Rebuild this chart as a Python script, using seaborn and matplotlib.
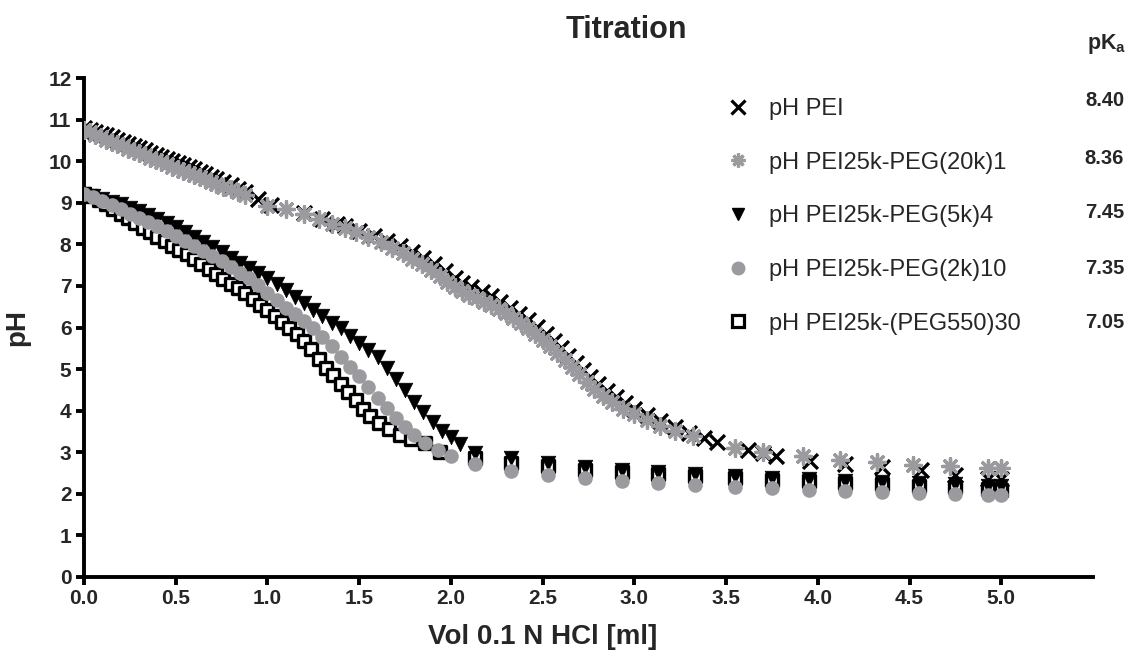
import matplotlib
matplotlib.use("Agg")
import matplotlib.pyplot as plt
from matplotlib.lines import Line2D
import seaborn as sns
import pandas as pd

# ---------------- data ----------------
pei_x = [0.00, 0.03, 0.06, 0.09, 0.12, 0.15, 0.18, 0.21, 0.24, 0.27, 0.30, 0.33, 0.36, 0.39, 0.42,
         0.45, 0.48, 0.51, 0.54, 0.57, 0.60, 0.63, 0.66, 0.69, 0.72, 0.76, 0.80, 0.84, 0.88, 0.95,
         1.02, 1.20, 1.30, 1.38, 1.42, 1.50, 1.58, 1.65, 1.72, 1.79, 1.85, 1.91, 1.97, 2.02, 2.06,
         2.11, 2.17, 2.22, 2.27, 2.32, 2.37, 2.42, 2.47, 2.52, 2.56, 2.60, 2.64, 2.68, 2.72, 2.76,
         2.80, 2.85, 2.90, 2.95, 3.00, 3.07, 3.14, 3.22, 3.30, 3.38, 3.45, 3.62, 3.70, 3.77, 3.96,
         4.15, 4.35, 4.56, 4.75, 4.93, 5.00]
pei_y = [10.80, 10.75, 10.70, 10.66, 10.62, 10.57, 10.52, 10.47, 10.42, 10.36, 10.31, 10.26, 10.20, 10.15, 10.10,
         10.05, 10.00, 9.95, 9.90, 9.85, 9.80, 9.74, 9.68, 9.62, 9.56, 9.50, 9.42, 9.33, 9.25, 9.10,
         8.95, 8.75, 8.60, 8.50, 8.45, 8.32, 8.20, 8.08, 7.95, 7.82, 7.68, 7.52, 7.35, 7.18, 7.08,
         6.98, 6.86, 6.75, 6.62, 6.48, 6.33, 6.18, 6.02, 5.85, 5.68, 5.50, 5.32, 5.14, 4.97, 4.80,
         4.63, 4.48, 4.32, 4.18, 4.05, 3.90, 3.76, 3.60, 3.46, 3.35, 3.25, 3.05, 2.98, 2.90, 2.80,
         2.72, 2.65, 2.58, 2.45, 2.35, 2.35]

peg20k_x = [0.00, 0.03, 0.06, 0.09, 0.12, 0.15, 0.18, 0.21, 0.24, 0.27, 0.30, 0.33, 0.36, 0.39, 0.42,
            0.45, 0.48, 0.51, 0.54, 0.57, 0.60, 0.63, 0.66, 0.69, 0.72, 0.76, 0.80, 0.84, 0.88, 1.00,
            1.10, 1.20, 1.28, 1.35, 1.42, 1.48, 1.55, 1.62, 1.68, 1.74, 1.79, 1.84, 1.89, 1.94, 1.98,
            2.02, 2.06, 2.10, 2.14, 2.18, 2.22, 2.26, 2.30, 2.34, 2.38, 2.42, 2.46, 2.50, 2.54, 2.58,
            2.62, 2.66, 2.70, 2.74, 2.78, 2.83, 2.88, 2.94, 3.00, 3.07, 3.14, 3.22, 3.32, 3.55, 3.70,
            3.92, 4.12, 4.32, 4.52, 4.72, 4.93, 5.00]
peg20k_y = [10.75, 10.70, 10.64, 10.58, 10.52, 10.47, 10.42, 10.36, 10.30, 10.25, 10.19, 10.14, 10.08, 10.03, 9.98,
            9.92, 9.87, 9.82, 9.77, 9.72, 9.67, 9.62, 9.56, 9.50, 9.44, 9.38, 9.32, 9.25, 9.18, 8.92,
            8.85, 8.72, 8.62, 8.50, 8.40, 8.30, 8.18, 8.05, 7.92, 7.78, 7.65, 7.52, 7.38, 7.24, 7.10,
            6.98, 6.88, 6.78, 6.70, 6.62, 6.53, 6.44, 6.34, 6.22, 6.10, 5.98, 5.85, 5.70, 5.55, 5.38,
            5.22, 5.05, 4.88, 4.70, 4.52, 4.36, 4.20, 4.05, 3.92, 3.78, 3.64, 3.52, 3.40, 3.10, 3.00,
            2.90, 2.82, 2.76, 2.70, 2.66, 2.62, 2.62]

peg5k_x = [0.00, 0.05, 0.10, 0.15, 0.20, 0.25, 0.30, 0.35, 0.40, 0.45, 0.50, 0.55, 0.60, 0.65, 0.70,
           0.75, 0.80, 0.85, 0.90, 0.95, 1.00, 1.05, 1.10, 1.15, 1.20, 1.25, 1.30, 1.35, 1.40, 1.45,
           1.50, 1.55, 1.60, 1.65, 1.70, 1.75, 1.80, 1.85, 1.90, 1.95, 2.00, 2.05, 2.13, 2.33, 2.53,
           2.73, 2.93, 3.13, 3.33, 3.55, 3.75, 3.95, 4.15, 4.35, 4.55, 4.75, 4.93, 5.00]
peg5k_y = [9.20, 9.16, 9.10, 9.03, 8.96, 8.88, 8.80, 8.70, 8.60, 8.51, 8.41, 8.30, 8.18, 8.06, 7.94,
           7.81, 7.68, 7.56, 7.44, 7.31, 7.18, 7.05, 6.90, 6.74, 6.58, 6.42, 6.27, 6.12, 5.98, 5.80,
           5.62, 5.45, 5.28, 5.02, 4.76, 4.50, 4.22, 3.96, 3.72, 3.52, 3.36, 3.20, 2.98, 2.85, 2.74,
           2.65, 2.58, 2.52, 2.47, 2.43, 2.39, 2.35, 2.32, 2.29, 2.26, 2.23, 2.20, 2.20]

peg2k_x = [0.00, 0.05, 0.10, 0.15, 0.20, 0.25, 0.30, 0.35, 0.40, 0.45, 0.50, 0.55, 0.60, 0.65, 0.70,
           0.75, 0.80, 0.85, 0.90, 0.95, 1.00, 1.05, 1.10, 1.15, 1.20, 1.25, 1.30, 1.35, 1.40, 1.45,
           1.50, 1.55, 1.60, 1.65, 1.70, 1.75, 1.80, 1.86, 1.93, 2.00, 2.13, 2.33, 2.53, 2.73, 2.93,
           3.13, 3.33, 3.55, 3.75, 3.95, 4.15, 4.35, 4.55, 4.75, 4.93, 5.00]
peg2k_y = [9.20, 9.13, 9.04, 8.95, 8.84, 8.74, 8.64, 8.54, 8.43, 8.32, 8.21, 8.09, 7.97, 7.84, 7.71,
           7.59, 7.46, 7.32, 7.18, 7.02, 6.84, 6.66, 6.48, 6.32, 6.16, 5.98, 5.78, 5.55, 5.30, 5.06,
           4.84, 4.56, 4.30, 4.06, 3.82, 3.60, 3.42, 3.22, 3.05, 2.90, 2.72, 2.55, 2.45, 2.38, 2.32,
           2.27, 2.22, 2.17, 2.13, 2.10, 2.07, 2.04, 2.02, 2.00, 1.97, 1.97]

peg550_x = [0.00, 0.04, 0.08, 0.12, 0.16, 0.20, 0.24, 0.28, 0.32, 0.36, 0.40, 0.44, 0.48, 0.52, 0.56,
            0.60, 0.64, 0.68, 0.72, 0.76, 0.80, 0.84, 0.88, 0.92, 0.96, 1.00, 1.04, 1.08, 1.12, 1.16,
            1.20, 1.24, 1.28, 1.32, 1.36, 1.40, 1.44, 1.48, 1.52, 1.56, 1.61, 1.66, 1.72, 1.78, 1.86,
            1.94, 2.13, 2.33, 2.53, 2.73, 2.93, 3.13, 3.33, 3.55, 3.75, 3.95, 4.15, 4.35, 4.55, 4.75,
            4.93, 5.00]
peg550_y = [9.22, 9.16, 9.07, 8.96, 8.85, 8.74, 8.63, 8.52, 8.40, 8.29, 8.18, 8.08, 7.97, 7.87, 7.76,
            7.65, 7.53, 7.41, 7.28, 7.16, 7.05, 6.94, 6.82, 6.68, 6.55, 6.42, 6.28, 6.14, 6.00, 5.85,
            5.68, 5.48, 5.25, 5.02, 4.85, 4.65, 4.45, 4.25, 4.05, 3.88, 3.70, 3.55, 3.42, 3.33, 3.22,
            3.00, 2.85, 2.75, 2.66, 2.58, 2.52, 2.47, 2.42, 2.37, 2.33, 2.30, 2.27, 2.23, 2.20, 2.17,
            2.12, 2.10]

series_labels = ["pH PEI", "pH PEI25k-PEG(20k)1", "pH PEI25k-PEG(5k)4",
                 "pH PEI25k-PEG(2k)10", "pH PEI25k-(PEG550)30"]
pka_values = ["8.40", "8.36", "7.45", "7.35", "7.05"]
x_ticks = [0.0, 0.5, 1.0, 1.5, 2.0, 2.5, 3.0, 3.5, 4.0, 4.5, 5.0]
y_ticks = list(range(0, 13))

# ---------------- style ----------------
sns.set_style("ticks")
plt.rcParams['font.family'] = ['Liberation Sans', 'DejaVu Sans']
plt.rcParams['mathtext.fontset'] = 'custom'
plt.rcParams['mathtext.rm'] = 'Liberation Sans'
plt.rcParams['mathtext.bf'] = 'Liberation Sans:bold'

GRAY = '#9b9b9f'
BLACK = '#000000'

fig = plt.figure(figsize=(11.34, 6.53), dpi=100)
ax = fig.add_axes([84/1134, 1-577/653, (1093-84)/1134, (577-78)/653])

def df(x, y):
    return pd.DataFrame({"x": x, "y": y})

ASTER = (8, 2, 0)

sns.scatterplot(data=df(peg550_x, peg550_y), x="x", y="y", ax=ax, marker='s', s=85,
                color='white', edgecolor=BLACK, linewidth=2.4, zorder=2, legend=False)
sns.scatterplot(data=df(peg5k_x, peg5k_y), x="x", y="y", ax=ax, marker='v', s=110,
                color=BLACK, edgecolor=BLACK, linewidth=0.5, zorder=3, legend=False)
sns.scatterplot(data=df(peg2k_x, peg2k_y), x="x", y="y", ax=ax, marker='o', s=110,
                color=GRAY, edgecolor=GRAY, linewidth=0, zorder=4, legend=False)
sns.scatterplot(data=df(pei_x, pei_y), x="x", y="y", ax=ax, marker='x', s=115,
                color=BLACK, linewidth=2.4, zorder=5, legend=False)
sns.scatterplot(data=df(peg20k_x, peg20k_y), x="x", y="y", ax=ax, marker=ASTER, s=125,
                color=GRAY, edgecolor=GRAY, linewidth=2.4, zorder=6, legend=False)

ax.set_xlim(0, 5.5)
ax.set_ylim(0, 12)
ax.set_xticks(x_ticks)
ax.set_xticklabels([f"{v:.1f}" for v in x_ticks])
ax.set_yticks(y_ticks)
ax.set_yticklabels([str(v) for v in y_ticks])
for sp in ['top', 'right']:
    ax.spines[sp].set_visible(False)
for sp in ['left', 'bottom']:
    ax.spines[sp].set_linewidth(2.8)
    ax.spines[sp].set_color('black')
ax.tick_params(axis='both', direction='out', length=6, width=2.8, color='black',
               labelsize=15, pad=3)
for lab in ax.get_xticklabels() + ax.get_yticklabels():
    lab.set_fontweight('bold')

ax.set_xlabel("Vol 0.1 N HCl [ml]", fontsize=20, fontweight='bold')
ax.set_ylabel("pH", fontsize=20, fontweight='bold')
ax.xaxis.set_label_coords(2.5/5.5, -0.094)
ax.yaxis.set_label_coords(-0.053, 0.5)

fig.text(0.552, 1-30/653, "Titration", ha='center', va='center', fontsize=22, fontweight='bold')

handles = [
    Line2D([], [], ls='none', marker='x', markersize=10, mew=2.3, color=BLACK),
    Line2D([], [], ls='none', marker=ASTER, markersize=10, mew=2.3, color=GRAY),
    Line2D([], [], ls='none', marker='v', markersize=9, color=BLACK),
    Line2D([], [], ls='none', marker='o', markersize=9, color=GRAY, mec=GRAY),
    Line2D([], [], ls='none', marker='s', markersize=8, mfc='white', mec=BLACK, mew=2.3),
]
ax.legend(handles, series_labels, loc='upper left', bbox_to_anchor=(724/1134, 1-98/653),
          bbox_transform=fig.transFigure, frameon=False, fontsize=17, labelspacing=1.34,
          handlelength=1.2, handletextpad=0.7, borderpad=0, borderaxespad=0)

row_y = [101, 158, 213, 268, 322]
for val, ry in zip(pka_values, row_y):
    fig.text(1124/1134, 1-ry/653, val, ha='right', va='center', fontsize=14.5, fontweight='bold')
fig.text(1126/1134, 1-44/653, r'$\mathbf{pK_a}$', ha='right', va='center', fontsize=15.5)

fig.savefig("out.png", dpi=100)
